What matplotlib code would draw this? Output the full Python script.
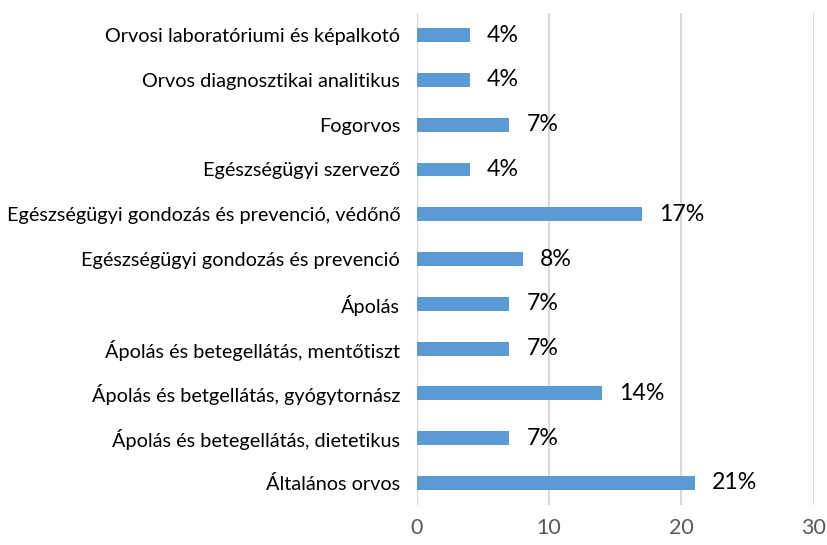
import numpy as np
import matplotlib.pyplot as plt

plt.rcParams['font.family'] = ['Lato', 'DejaVu Sans']

categories = ['Általános orvos',
              'Ápolás és betegellátás, dietetikus',
              'Ápolás és betgellátás, gyógytornász',
              'Ápolás és betegellátás, mentőtiszt',
              'Ápolás',
              'Egészségügyi gondozás és prevenció',
              'Egészségügyi gondozás és prevenció, védőnő',
              'Egészségügyi szervező',
              'Fogorvos',
              'Orvos diagnosztikai analitikus',
              'Orvosi laboratóriumi és képalkotó']
values = [21, 7, 14, 7, 7, 8, 17, 4, 7, 4, 4]
labels = ['21%', '7%', '14%', '7%', '7%', '8%', '17%', '4%', '7%', '4%', '4%']

fig = plt.figure(figsize=(8.27, 5.45), dpi=100)
ax = fig.add_axes([0.504, 0.0727, 0.48, 0.904])

y = np.arange(len(categories))
bars = ax.barh(y, values, height=0.31, color='#5B9BD5', zorder=3)
for b, lab in zip(bars, labels):
    ax.text(b.get_width() + 1.3, b.get_y() + b.get_height() / 2, lab,
            va='center', ha='left', fontsize=16.7, color='black')

ax.set_xlim(0, 30)
ax.set_ylim(-0.5, len(categories) - 0.5)
ax.set_xticks([0, 10, 20, 30])
ax.set_yticks(y)
ax.set_yticklabels(categories, fontsize=14.3)
ax.tick_params(axis='y', length=0, pad=12)
ax.tick_params(axis='x', length=0, pad=9, labelsize=15.5, labelcolor='#595959')
ax.grid(axis='x', color='#D9D9D9', linewidth=1.5, zorder=0)
for s in ax.spines.values():
    s.set_visible(False)

fig.savefig('out.png', dpi=100)
